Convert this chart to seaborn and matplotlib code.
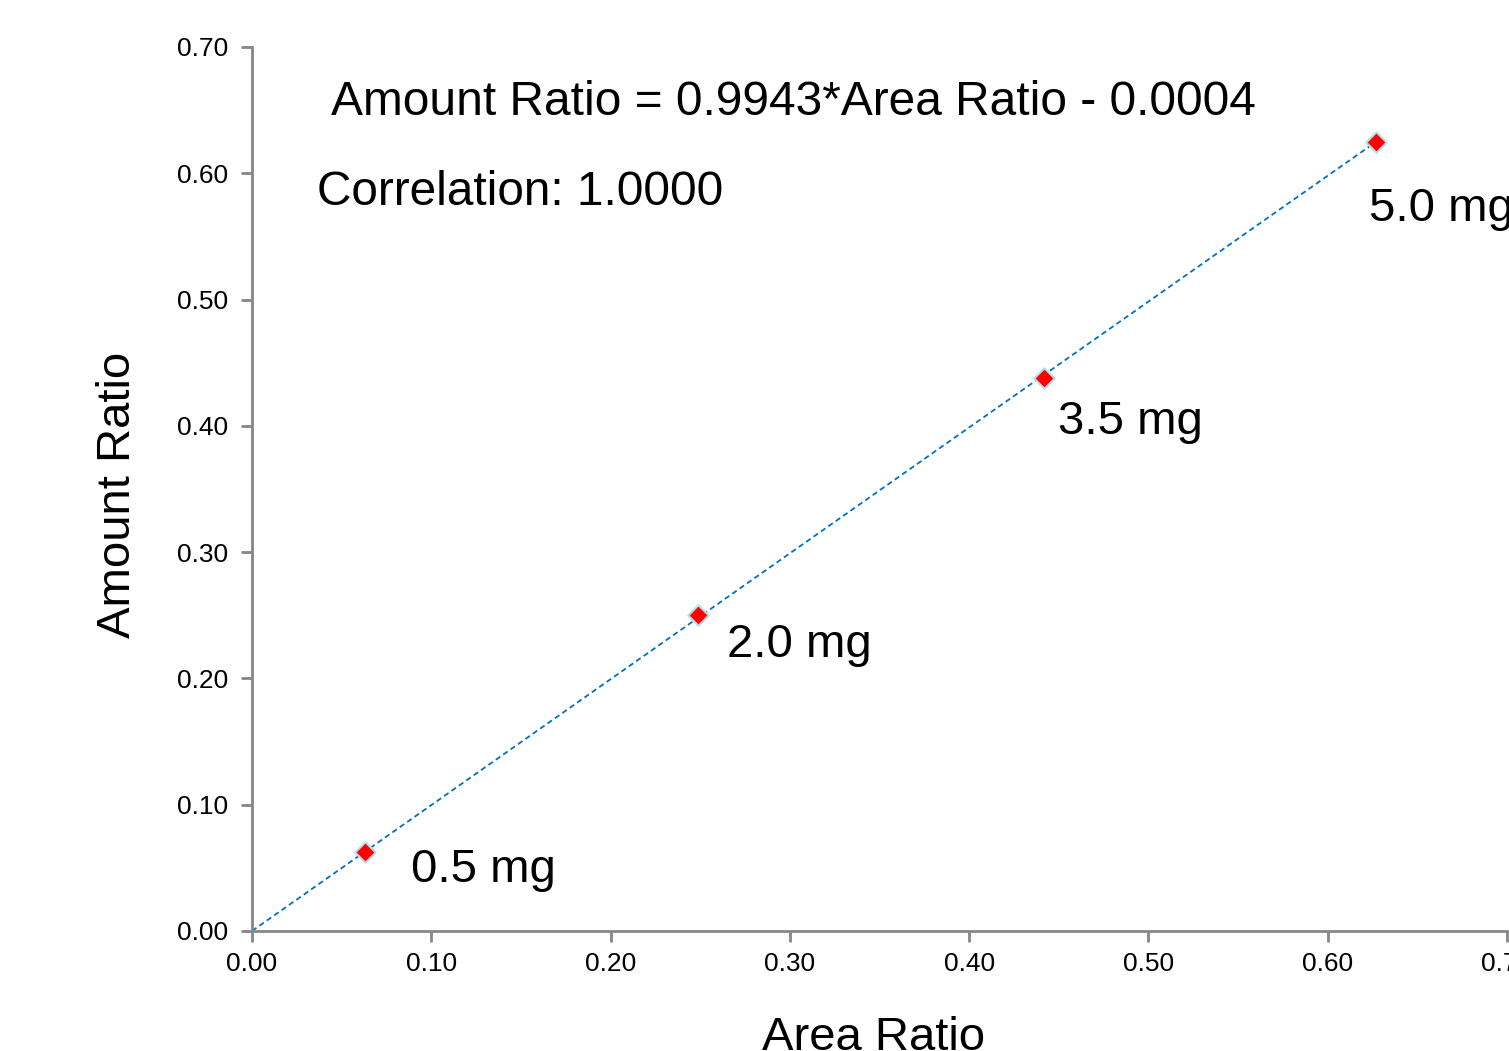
import numpy as np
import pandas as pd
import seaborn as sns
import matplotlib.pyplot as plt

# calibration points
area_ratio = [0.0630, 0.2490, 0.4415, 0.6270]
amount_ratio = [0.0625, 0.2500, 0.4375, 0.6250]
labels = ["0.5 mg", "2.0 mg", "3.5 mg", "5.0 mg"]
slope = 0.9943
intercept = -0.0004
x_ticks = [0.0, 0.1, 0.2, 0.3, 0.4, 0.5, 0.6, 0.7]
y_ticks = [0.0, 0.1, 0.2, 0.3, 0.4, 0.5, 0.6, 0.7]

df = pd.DataFrame({"Area Ratio": area_ratio, "Amount Ratio": amount_ratio, "label": labels})

sns.set_style("white")
plt.rcParams['font.family'] = ['Liberation Sans', 'DejaVu Sans']
plt.rcParams['text.color'] = 'black'
plt.rcParams['axes.labelcolor'] = 'black'

fig = plt.figure(figsize=(15.09, 10.51), dpi=100)
ax = fig.add_axes([0.167, 0.1142, 0.8317, 0.8411])

# trendline through the origin to the last point
line_x = np.array([0.0, max(area_ratio)])
line_y = np.array([0.0, max(amount_ratio)])
ax.plot(line_x, line_y, color="#0070C0", linestyle=(0, (3, 2)),
        linewidth=1.3, zorder=2)

sns.scatterplot(data=df, x="Area Ratio", y="Amount Ratio", marker="D", s=110,
                color="#FF0000", edgecolor="#B7DEE8", linewidth=1.5, ax=ax, zorder=3)

# point labels (offset from each point)
offsets = [(0.0257, -0.014), (0.0159, -0.0236), (0.0080, -0.0345), (-0.0040, -0.053)]
for (dx, dy), x, y, t in zip(offsets, area_ratio, amount_ratio, labels):
    ax.text(x + dx, y + dy, t, fontsize=34, va="center", ha="left", clip_on=False)

ax.text(0.0441, 0.656, f"Amount Ratio = {slope:.4f}*Area Ratio - {abs(intercept):.4f}",
        fontsize=34.5, va="center", ha="left")
ax.text(0.0363, 0.5845, "Correlation: 1.0000", fontsize=34.4, va="center", ha="left")

ax.set_xlim(0, 0.7)
ax.set_ylim(0, 0.7)
ax.set_xticks(x_ticks)
ax.set_yticks(y_ticks)
ax.set_xticklabels([f"{v:.2f}" for v in x_ticks])
ax.set_yticklabels([f"{v:.2f}" for v in y_ticks])
ax.tick_params(axis="both", labelsize=19, direction="out", length=8, width=2,
               color="#868686", labelcolor="black", bottom=True, left=True)
ax.tick_params(axis="y", pad=9)
ax.tick_params(axis="x", pad=7)

for side in ["top", "right"]:
    ax.spines[side].set_visible(False)
for side in ["left", "bottom"]:
    ax.spines[side].set_color("#868686")
    ax.spines[side].set_linewidth(2)

ax.set_xlabel("Area Ratio", fontsize=34)
ax.set_ylabel("Amount Ratio", fontsize=34)
ax.xaxis.set_label_coords(0.495, -0.0965)
ax.yaxis.set_label_coords(-0.0895, 0.493)

fig.savefig("out.png", dpi=100)
